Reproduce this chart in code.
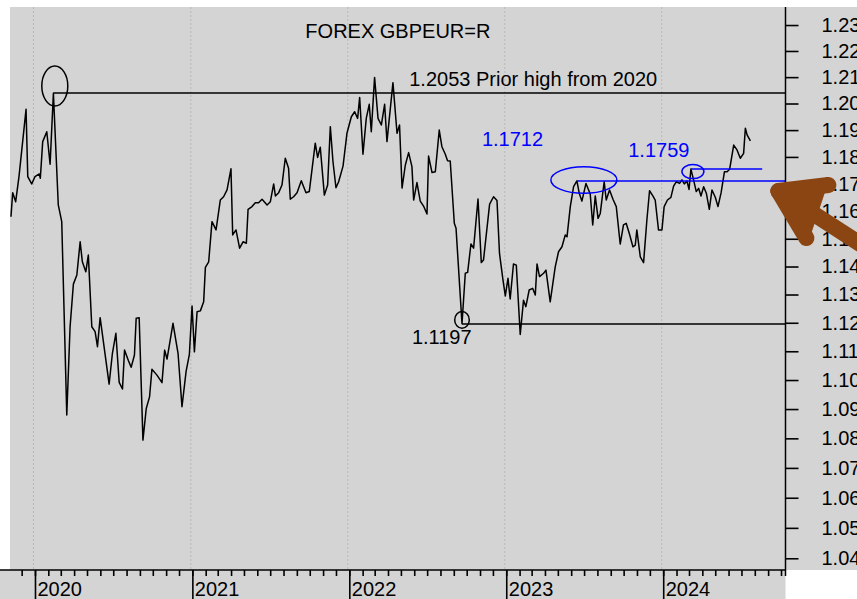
<!DOCTYPE html>
<html>
<head>
<meta charset="utf-8">
<script src="https://cdn.jsdelivr.net/npm/d3@7"></script>
<style>
  body { margin: 0; background: #fff; }
  svg { display: block; font-family: 'Liberation Sans', Arial, sans-serif; }
</style>
</head>
<body>
<div class="canvas"></div>
<script>
// weekly closes, dates kept as decimal years
const weeks = [
  2019.847, 2019.858, 2019.877, 2019.898, 2019.943, 2019.954, 2019.979, 2020.000, 2020.027, 2020.034,
  2020.049, 2020.075, 2020.096, 2020.117, 2020.148, 2020.170, 2020.202, 2020.223, 2020.244, 2020.266,
  2020.287, 2020.301, 2020.323, 2020.339, 2020.361, 2020.382, 2020.397, 2020.414, 2020.471, 2020.492,
  2020.514, 2020.535, 2020.556, 2020.569, 2020.594, 2020.611, 2020.632, 2020.643, 2020.662, 2020.686,
  2020.707, 2020.728, 2020.743, 2020.775, 2020.807, 2020.824, 2020.839, 2020.877, 2020.909, 2020.934,
  2020.960, 2020.981, 2020.998, 2021.013, 2021.030, 2021.051, 2021.072, 2021.083, 2021.104, 2021.125,
  2021.151, 2021.178, 2021.199, 2021.221, 2021.246, 2021.257, 2021.278, 2021.301, 2021.323, 2021.344,
  2021.355, 2021.380, 2021.401, 2021.422, 2021.444, 2021.476, 2021.497, 2021.518, 2021.529, 2021.550,
  2021.571, 2021.592, 2021.613, 2021.624, 2021.645, 2021.667, 2021.694, 2021.724, 2021.745, 2021.783,
  2021.798, 2021.815, 2021.841, 2021.862, 2021.879, 2021.896, 2021.915, 2021.932, 2021.960, 2021.985,
  2022.013, 2022.034, 2022.053, 2022.066, 2022.087, 2022.108, 2022.127, 2022.140, 2022.161, 2022.183,
  2022.204, 2022.225, 2022.240, 2022.278, 2022.304, 2022.320, 2022.336, 2022.357, 2022.378, 2022.399,
  2022.410, 2022.431, 2022.452, 2022.473, 2022.495, 2022.505, 2022.527, 2022.548, 2022.573, 2022.590,
  2022.611, 2022.626, 2022.643, 2022.669, 2022.680, 2022.718, 2022.739, 2022.754, 2022.775, 2022.792,
  2022.820, 2022.841, 2022.855, 2022.894, 2022.919, 2022.941, 2022.957, 2022.979, 2022.994, 2023.011,
  2023.025, 2023.046, 2023.064, 2023.089, 2023.110, 2023.125, 2023.146, 2023.168, 2023.185, 2023.196,
  2023.212, 2023.238, 2023.253, 2023.280, 2023.312, 2023.333, 2023.355, 2023.376, 2023.387, 2023.408,
  2023.429, 2023.450, 2023.465, 2023.482, 2023.508, 2023.535, 2023.551, 2023.567, 2023.585, 2023.599,
  2023.616, 2023.624, 2023.637, 2023.658, 2023.680, 2023.701, 2023.726, 2023.747, 2023.764, 2023.785,
  2023.807, 2023.822, 2023.832, 2023.854, 2023.875, 2023.896, 2023.913, 2023.934, 2023.949, 2023.970,
  2023.992, 2024.006, 2024.027, 2024.049, 2024.066, 2024.083, 2024.104, 2024.119, 2024.134, 2024.151,
  2024.164, 2024.176, 2024.193, 2024.210, 2024.225, 2024.240, 2024.257, 2024.274, 2024.293, 2024.310,
  2024.331, 2024.348, 2024.368, 2024.389, 2024.406, 2024.422, 2024.448, 2024.469, 2024.490, 2024.511,
  2024.522, 2024.533, 2024.554
];

const closes = [
  1.1580, 1.1668, 1.1635, 1.1727, 1.1978, 1.1727, 1.1700, 1.1727, 1.1737, 1.1721,
  1.1857, 1.1894, 1.1773, 1.2039, 1.1623, 1.1562, 1.0880, 1.1186, 1.1337, 1.1370,
  1.1489, 1.1417, 1.1381, 1.1441, 1.1186, 1.1169, 1.1116, 1.1218, 1.0986, 1.1093,
  1.1163, 1.0992, 1.0969, 1.1104, 1.1067, 1.1044, 1.1087, 1.1216, 1.1218, 1.0794,
  1.0902, 1.0942, 1.1037, 1.1017, 1.0991, 1.1104, 1.1073, 1.1198, 1.1093, 1.0908,
  1.1029, 1.1089, 1.1259, 1.1098, 1.1239, 1.1242, 1.1274, 1.1397, 1.1417, 1.1562,
  1.1532, 1.1641, 1.1653, 1.1678, 1.1756, 1.1514, 1.1532, 1.1466, 1.1489, 1.1484,
  1.1607, 1.1617, 1.1631, 1.1631, 1.1644, 1.1623, 1.1635, 1.1700, 1.1656, 1.1668,
  1.1696, 1.1795, 1.1758, 1.1644, 1.1653, 1.1668, 1.1712, 1.1668, 1.1672, 1.1851,
  1.1798, 1.1836, 1.1659, 1.1696, 1.1913, 1.1782, 1.1686, 1.1708, 1.1766, 1.1888,
  1.1950, 1.1969, 1.1944, 1.2023, 1.1810, 1.1944, 1.1997, 1.1894, 1.2099, 1.1944,
  1.1919, 1.1997, 1.1857, 1.2079, 1.1888, 1.1919, 1.1685, 1.1770, 1.1816, 1.1764,
  1.1641, 1.1705, 1.1637, 1.1619, 1.1590, 1.1803, 1.1742, 1.1745, 1.1900, 1.1838,
  1.1811, 1.1786, 1.1785, 1.1556, 1.1538, 1.1197, 1.1376, 1.1379, 1.1481, 1.1466,
  1.1645, 1.1414, 1.1423, 1.1626, 1.1653, 1.1639, 1.1447, 1.1352, 1.1295, 1.1358,
  1.1284, 1.1409, 1.1405, 1.1159, 1.1280, 1.1257, 1.1316, 1.1322, 1.1298, 1.1409,
  1.1364, 1.1376, 1.1387, 1.1274, 1.1399, 1.1453, 1.1471, 1.1514, 1.1507, 1.1617,
  1.1690, 1.1711, 1.1666, 1.1637, 1.1702, 1.1663, 1.1550, 1.1656, 1.1574, 1.1592,
  1.1672, 1.1708, 1.1641, 1.1678, 1.1644, 1.1617, 1.1481, 1.1550, 1.1556, 1.1517,
  1.1471, 1.1477, 1.1532, 1.1435, 1.1414, 1.1568, 1.1675, 1.1656, 1.1641, 1.1532,
  1.1532, 1.1617, 1.1641, 1.1651, 1.1692, 1.1708, 1.1702, 1.1715, 1.1700, 1.1711,
  1.1680, 1.1755, 1.1715, 1.1672, 1.1684, 1.1656, 1.1690, 1.1666, 1.1607, 1.1678,
  1.1651, 1.1617, 1.1668, 1.1745, 1.1745, 1.1754, 1.1844, 1.1826, 1.1795, 1.1813,
  1.1907, 1.1882, 1.1860
];

const yearTicks = [2020, 2021, 2022, 2023, 2024];
const priceTicks = [1.04, 1.05, 1.06, 1.07, 1.08, 1.09, 1.10, 1.11, 1.12, 1.13,
  1.14, 1.15, 1.16, 1.17, 1.18, 1.19, 1.20, 1.21, 1.22, 1.23];
const title = 'FOREX GBPEUR=R';

// annotated levels: [level, from date, to date or null = right edge]
const priorHigh = [1.2040, 2020.117, null];
const lowLevel = [1.1196, 2022.718, null];
const blueLevels = [[1.1711, 2023.450, null], [1.1755, 2024.176, 2024.629]];
const levelLabels = ['1.2053 Prior high from 2020', '1.1197', '1.1712', '1.1759'];

const W = 857;
const H = 599;
const plot = { left: 10, top: 7, right: 785.5, bottom: 570 };
const bg = '#d4d4d4';
const blue = '#0000ff';
const brown = '#8b4513';

// decimal year -> utc date
const toDate = t => {
  const yr = Math.floor(t);
  const a = Date.UTC(yr, 0, 1);
  const b = Date.UTC(yr + 1, 0, 1);
  return new Date(a + (t - yr) * (b - a));
};

const svg = d3
  .select('.canvas')
  .append('svg')
  .attr('width', W)
  .attr('height', H);

// panel backgrounds
svg
  .append('rect')
  .attr('x', plot.left)
  .attr('y', plot.top)
  .attr('width', W - plot.left)
  .attr('height', plot.bottom - plot.top)
  .attr('fill', bg);

svg
  .append('rect')
  .attr('x', 0)
  .attr('y', plot.bottom)
  .attr('width', plot.right)
  .attr('height', H - plot.bottom)
  .attr('fill', bg);

// scales
const x = d3
  .scaleUtc()
  .domain([toDate(2019.8408), toDate(2024.7771)])
  .range([plot.left, plot.right]);
const y = d3
  .scaleLog()
  .domain([1.0364, 1.237])
  .range([569.3, plot.top]);

// dotted year grid
svg
  .append('g')
  .selectAll('line')
  .data(yearTicks)
  .enter()
  .append('line')
  .attr('x1', d => x(toDate(d)) - 1.5)
  .attr('x2', d => x(toDate(d)) - 1.5)
  .attr('y1', plot.top)
  .attr('y2', plot.bottom)
  .attr('stroke', '#b8b8b8')
  .attr('stroke-width', 1)
  .attr('stroke-dasharray', '2,2');

// price line
const line = d3
  .line()
  .x(d => x(toDate(d[0])))
  .y(d => y(d[1]));

svg
  .append('path')
  .datum(d3.zip(weeks, closes))
  .attr('fill', 'none')
  .attr('stroke', '#000')
  .attr('stroke-width', 1.5)
  .attr('stroke-linejoin', 'round')
  .attr('d', line);

// horizontal level lines
const levelLine = (lv, color) =>
  svg
    .append('line')
    .attr('x1', x(toDate(lv[1])))
    .attr('x2', lv[2] ? x(toDate(lv[2])) : plot.right)
    .attr('y1', y(lv[0]))
    .attr('y2', y(lv[0]))
    .attr('stroke', color)
    .attr('stroke-width', 1.5);

levelLine(priorHigh, '#000');
levelLine(lowLevel, '#000');
blueLevels.forEach(lv => levelLine(lv, blue));

// circles round the turning points
const ring = (lv, dx, dy, rx, ry, color) =>
  svg
    .append('ellipse')
    .attr('cx', x(toDate(lv[1])) + dx)
    .attr('cy', y(lv[0]) + dy)
    .attr('rx', rx)
    .attr('ry', ry)
    .attr('fill', 'none')
    .attr('stroke', color)
    .attr('stroke-width', 1.5);

ring(priorHigh, 1.4, -7, 13, 20, '#000');
ring(lowLevel, 0, -4, 7.3, 8.3, '#000');
ring(blueLevels[0], 7, -1, 33, 13.3, blue);
ring(blueLevels[1], 2, 2.5, 11, 7, blue);

// labels
const label = (text, t, yy, color) =>
  svg
    .append('text')
    .attr('x', x(toDate(t)))
    .attr('y', yy)
    .attr('fill', color)
    .attr('font-size', 20)
    .text(text);

label(title, 2021.72, 38, '#000');
label(levelLabels[0], 2022.382, y(priorHigh[0]) - 7, '#000');
label(levelLabels[1], 2022.399, y(lowLevel[0]) + 20, '#000');
label(levelLabels[2], 2022.845, y(blueLevels[0][0]) - 34.5, blue);
label(levelLabels[3], 2023.777, y(blueLevels[1][0]) - 12, blue);

// bottom axis: month ticks and year ticks
const xAxisGroup = svg
  .append('g')
  .attr('transform', `translate(0, ${plot.bottom})`);

xAxisGroup.call(
  d3
    .axisBottom(x)
    .ticks(d3.utcMonth.every(1))
    .tickSize(6)
    .tickFormat('')
);

const yearAxisGroup = svg
  .append('g')
  .attr('transform', `translate(0, ${plot.bottom})`);

yearAxisGroup.call(
  d3
    .axisBottom(x)
    .tickValues(yearTicks.map(toDate))
    .tickSize(H - plot.bottom)
    .tickFormat(d3.utcFormat('%Y'))
);

yearAxisGroup
  .selectAll('text')
  .attr('text-anchor', 'start')
  .attr('x', 2)
  .attr('y', 26)
  .attr('dy', 0);

svg
  .append('line')
  .attr('x1', 0)
  .attr('x2', plot.right)
  .attr('y1', plot.bottom)
  .attr('y2', plot.bottom)
  .attr('stroke', '#000')
  .attr('stroke-width', 1.5);

// right price axis
const yAxisGroup = svg
  .append('g')
  .attr('transform', `translate(${plot.right}, 0)`);

yAxisGroup.call(
  d3
    .axisRight(y)
    .tickValues(priceTicks.map(d => d + 0.005))
    .tickSize(5)
    .tickFormat('')
);

yAxisGroup.call(
  d3
    .axisRight(y)
    .tickValues(priceTicks)
    .tickSize(13)
    .tickPadding(23)
    .tickFormat(d3.format('.2f'))
);

svg
  .append('line')
  .attr('x1', plot.right)
  .attr('x2', plot.right)
  .attr('y1', plot.top)
  .attr('y2', plot.bottom + 6)
  .attr('stroke', '#000')
  .attr('stroke-width', 1.5);

// axis styling
svg.selectAll('.domain').remove();
svg
  .selectAll('.tick line')
  .attr('stroke', '#000')
  .attr('stroke-width', 1.6);
svg
  .selectAll('.tick text')
  .attr('fill', '#000')
  .attr('font-size', 20)
  .attr('font-family', "'Liberation Sans', Arial, sans-serif");

// brown arrow pointing at the breakout level
const tip = [x(toDate(2024.694)), y(1.1685)];
const arrow = svg
  .append('g')
  .attr('stroke', brown)
  .attr('stroke-width', 16)
  .attr('stroke-linecap', 'round')
  .attr('fill', 'none');

[[56, -3], [34, 50], [125, 80]].forEach(d => {
  arrow
    .append('line')
    .attr('x1', tip[0] + 6)
    .attr('y1', tip[1] + 3)
    .attr('x2', tip[0] + d[0])
    .attr('y2', tip[1] + d[1]);
});

arrow
  .append('path')
  .attr('stroke', 'none')
  .attr('fill', brown)
  .attr('d', `M${tip[0]},${tip[1]} L${tip[0] + 56},${tip[1] - 6} L${tip[0] + 36},${tip[1] + 54} Z`);
</script>
</body>
</html>
